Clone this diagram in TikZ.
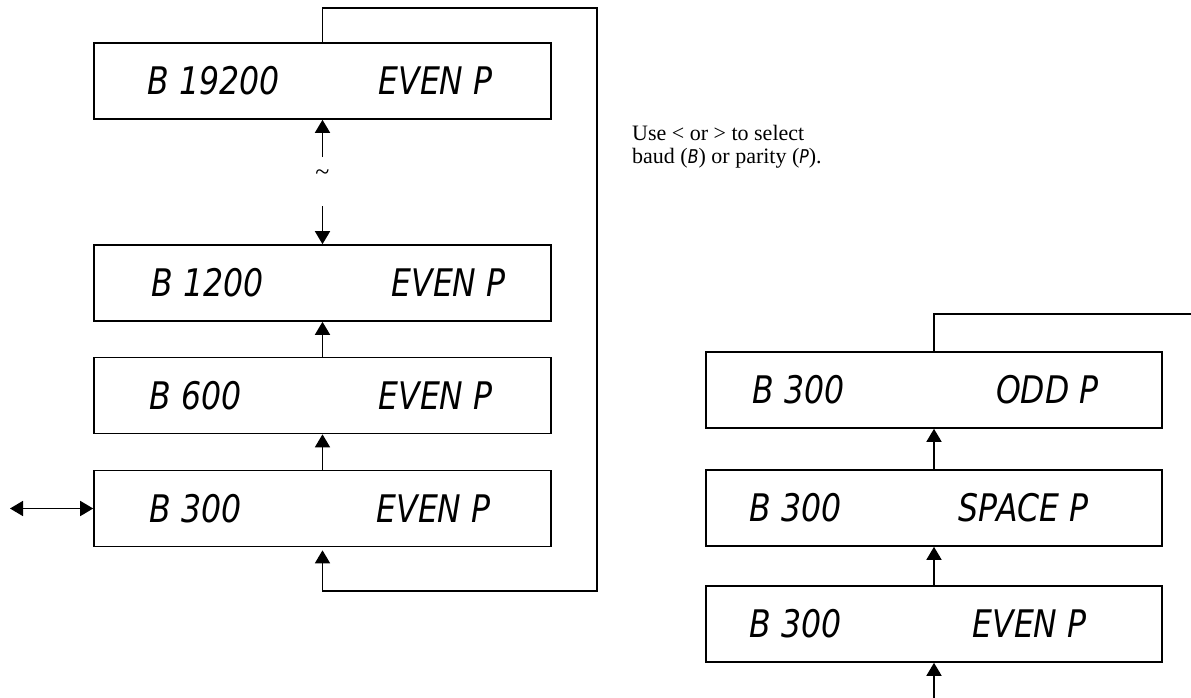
\documentclass[tikz,border=0pt]{standalone}
\usepackage{fontspec}
\setmainfont{Liberation Serif}
\newfontfamily\lcdfont{DejaVu Sans}[FakeStretch=0.83]
\usetikzlibrary{arrows.meta}
\tikzset{
  lcdbox/.style={draw, line width=1.6pt, minimum width=457pt, minimum height=76pt, inner sep=0pt},
  lcdtext/.style={font=\lcdfont\itshape\fontsize{38}{40}\selectfont, inner sep=0pt},
  conn/.style={line width=1.6pt},
  arr/.style={conn, -{Triangle[length=13pt,width=15pt]}},
  arrboth/.style={conn, {Triangle[length=13pt,width=15pt]}-{Triangle[length=13pt,width=15pt]}},
  note/.style={font=\fontsize{22}{24}\selectfont, align=left, inner sep=0pt}
}
\begin{document}
\begin{tikzpicture}[x=1pt,y=-1pt]
\useasboundingbox (0,0) rectangle (1191,698);
% left column
\node[lcdbox] (b1) at (322.5,81) {};
\node[lcdbox] (b2) at (322.5,283) {};
\node[lcdbox] (b3) at (322.5,395.5) {};
\node[lcdbox] (b4) at (322.5,508.5) {};
\node[lcdtext, anchor=west] (b1l) at ([xshift=54pt]b1.west) {B 19200};
\node[lcdtext, anchor=east] (b1r) at ([xshift=-59pt]b1.east) {EVEN P};
\node[lcdtext, anchor=west] (b2l) at ([xshift=58pt]b2.west) {B 1200};
\node[lcdtext, anchor=east] (b2r) at ([xshift=-46pt]b2.east) {EVEN P};
\node[lcdtext, anchor=west] (b3l) at ([xshift=56pt]b3.west) {B 600};
\node[lcdtext, anchor=east] (b3r) at ([xshift=-59pt]b3.east) {EVEN P};
\node[lcdtext, anchor=west] (b4l) at ([xshift=56pt]b4.west) {B 300};
\node[lcdtext, anchor=east] (b4r) at ([xshift=-61pt]b4.east) {EVEN P};
% right column
\node[lcdbox, minimum width=456pt] (r1) at (934,390) {};
\node[lcdbox, minimum width=456pt] (r2) at (934,508) {};
\node[lcdbox, minimum width=456pt] (r3) at (934,624) {};
\node[lcdtext, anchor=west] (r1l) at ([xshift=47pt]r1.west) {B 300};
\node[lcdtext, anchor=east] (r1r) at ([xshift=-64pt]r1.east) {ODD P};
\node[lcdtext, anchor=west] (r2l) at ([xshift=44pt]r2.west) {B 300};
\node[lcdtext, anchor=east] (r2r) at ([xshift=-74pt]r2.east) {SPACE P};
\node[lcdtext, anchor=west] (r3l) at ([xshift=44pt]r3.west) {B 300};
\node[lcdtext, anchor=east] (r3r) at ([xshift=-76pt]r3.east) {EVEN P};
% note
\node[note, anchor=base west] (note) at (632,164) {Use < or > to select\\baud ({\lcdfont\itshape\fontsize{19}{19}\selectfont B}) or parity ({\lcdfont\itshape\fontsize{19}{19}\selectfont P}).};
% left connectors
\coordinate (c1) at (322.5,157);
\coordinate (c2) at (322.5,206);
\node[font=\fontsize{26}{26}\selectfont, inner sep=0pt] (tl) at (322.5,175) {\textasciitilde};
\draw[arr] (c1) -- (b1.south);
\draw[arr] (c2) -- (b2.north);
\draw[arr] (b3.north) -- (b2.south);
\draw[arr] (b4.north) -- (b3.south);
\coordinate (lt) at (597,8);
\coordinate (lb) at (597,591);
\draw[arr] (b1.north) |- (lt) -- (lb) -| ([yshift=-3pt]b4.south);
\coordinate (de) at (10,508.5);
\draw[arrboth] (de) -- (b4.west);
% right connectors
\draw[arr] (r2.north) -- (r1.south);
\draw[arr] (r3.north) -- (r2.south);
\coordinate (rb) at (934,698);
\draw[arr] (rb) -- (r3.south);
\coordinate (rt) at (1191,314);
\draw[conn] (r1.north) |- (rt);
\end{tikzpicture}
\end{document}
